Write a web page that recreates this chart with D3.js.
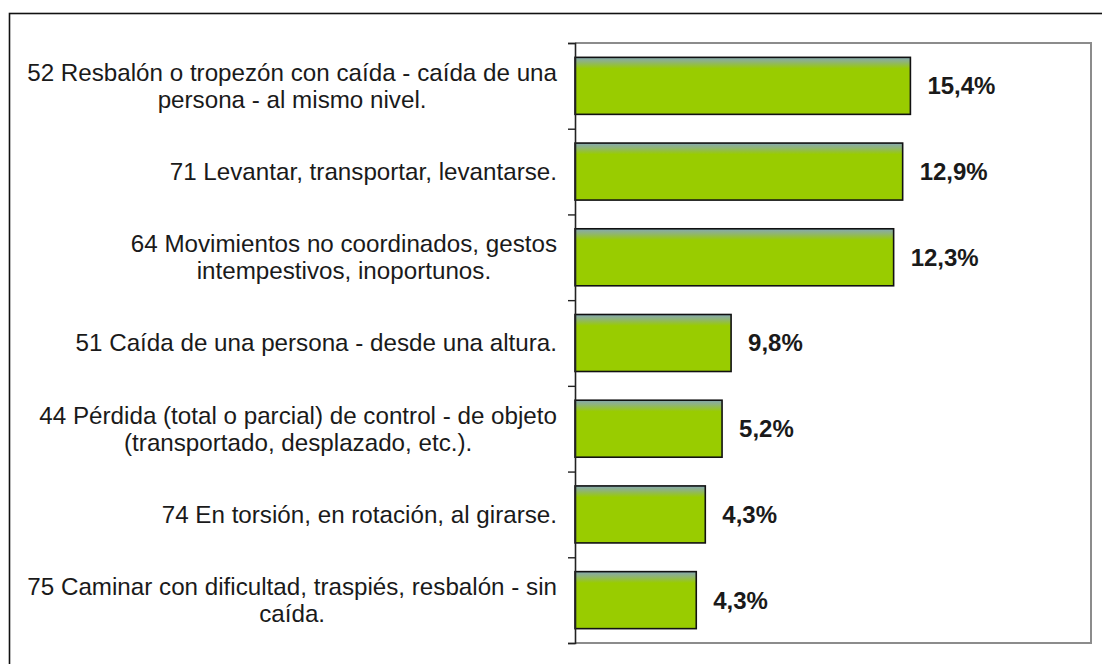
<!DOCTYPE html>
<html>
<head>
<meta charset="utf-8">
<script src="https://cdn.jsdelivr.net/npm/d3@7"></script>
<style>
    body { margin: 0; background: #fff; }
    svg { display: block; font-family: "Liberation Sans", Arial, sans-serif; }
</style>
</head>
<body>
<div id="chart"></div>
<script>
// Category labels, already wrapped the way the original chart shows them
const categories = [
    ["52 Resbalón o tropezón con caída - caída de una", "persona - al mismo nivel."],
    ["71 Levantar, transportar, levantarse."],
    ["64 Movimientos no coordinados, gestos", "intempestivos, inoportunos."],
    ["51 Caída de una persona - desde una altura."],
    ["44 Pérdida (total o parcial) de control - de objeto", "(transportado, desplazado, etc.)."],
    ["74 En torsión, en rotación, al girarse."],
    ["75 Caminar con dificultad, traspiés, resbalón - sin", "caída."]
];

// Bar lengths as drawn in the picture (axis runs 0 - 20, not shown)
const barValues = [13.0, 12.7, 12.35, 6.05, 5.7, 5.05, 4.7];

// Printed percentages next to each bar
const valueLabels = ["15,4%", "12,9%", "12,3%", "9,8%", "5,2%", "4,3%", "4,3%"];

const xDomain = [0, 20];

const width = 1102;
const height = 664;
const plot = { left: 575, right: 1091, top: 43, bottom: 643 };

const svg = d3.select('#chart')
    .append('svg')
    .attr('width', width)
    .attr('height', height);

svg.append('rect')
    .attr('width', width)
    .attr('height', height)
    .attr('fill', '#fff');

// Outer frame, runs off the right and bottom edges
svg.append('rect')
    .attr('x', 9.5)
    .attr('y', 13.5)
    .attr('width', 1200)
    .attr('height', 800)
    .attr('fill', 'none')
    .attr('stroke', '#111')
    .attr('stroke-width', 1.6);

const ids = categories.map((d, i) => i);

const y = d3.scaleBand()
    .domain(ids)
    .range([plot.top, plot.bottom])
    .paddingInner(0.335)
    .paddingOuter(0.1675);

const x = d3.scaleLinear()
    .domain(xDomain)
    .range([plot.left, plot.right]);

// Bar gradient: grey-blue sheen on top, then flat green
const defs = svg.append('defs');
const grad = defs.append('linearGradient')
    .attr('id', 'barGrad')
    .attr('x1', 0).attr('y1', 0)
    .attr('x2', 0).attr('y2', 1);
grad.append('stop').attr('offset', '0%').attr('stop-color', '#86a8b4');
grad.append('stop').attr('offset', '8%').attr('stop-color', '#8fb478');
grad.append('stop').attr('offset', '20%').attr('stop-color', '#99cc00');
grad.append('stop').attr('offset', '100%').attr('stop-color', '#99cc00');

// Plot area border (grey on top, right, bottom)
svg.append('path')
    .attr('d', `M${plot.left},${plot.top}H${plot.right}V${plot.bottom}H${plot.left}`)
    .attr('fill', 'none')
    .attr('stroke', '#8c8c8c')
    .attr('stroke-width', 2);

// Bars
svg.selectAll('rect.bar')
    .data(barValues)
    .enter()
    .append('rect')
    .attr('class', 'bar')
    .attr('x', x(0))
    .attr('y', (d, i) => y(i))
    .attr('width', d => x(d) - x(0))
    .attr('height', y.bandwidth())
    .attr('fill', 'url(#barGrad)')
    .attr('stroke', '#111')
    .attr('stroke-width', 1.6);

// Category axis: ticks sit between categories
const boundary = d3.scaleLinear()
    .domain([0, categories.length])
    .range([plot.top, plot.bottom]);

const axis = svg.append('g')
    .attr('transform', `translate(${plot.left},0)`)
    .call(d3.axisLeft(boundary)
        .tickValues(d3.range(categories.length + 1))
        .tickSize(7)
        .tickFormat(''));
axis.select('.domain')
    .attr('stroke', '#222')
    .attr('stroke-width', 1.6);
axis.selectAll('.tick line')
    .attr('stroke', '#222')
    .attr('stroke-width', 1.4);

// Category labels, centred block whose widest line ends near the axis
const labelRight = 557;
const lineHeight = 27;
const fontSize = 24.2;

categories.forEach((lines, i) => {
    const cy = y(i) + y.bandwidth() / 2;
    const g = svg.append('g');
    const texts = g.selectAll('text')
        .data(lines)
        .enter()
        .append('text')
        .attr('y', (d, j) => cy + (j - (lines.length - 1) / 2) * lineHeight)
        .attr('dy', '0.35em')
        .attr('text-anchor', 'middle')
        .style('font-size', fontSize + 'px')
        .style('fill', '#1a1a1a')
        .text(d => d);
    const maxW = d3.max(texts.nodes(), n => n.getComputedTextLength());
    texts.attr('x', labelRight - maxW / 2);
});

// Value labels
svg.selectAll('text.value')
    .data(barValues)
    .enter()
    .append('text')
    .attr('class', 'value')
    .attr('x', d => x(d) + 17)
    .attr('y', (d, i) => y(i) + y.bandwidth() / 2)
    .attr('dy', '0.35em')
    .style('font-size', '24px')
    .style('font-weight', 'bold')
    .style('fill', '#1a1a1a')
    .text((d, i) => valueLabels[i]);
</script>
</body>
</html>
